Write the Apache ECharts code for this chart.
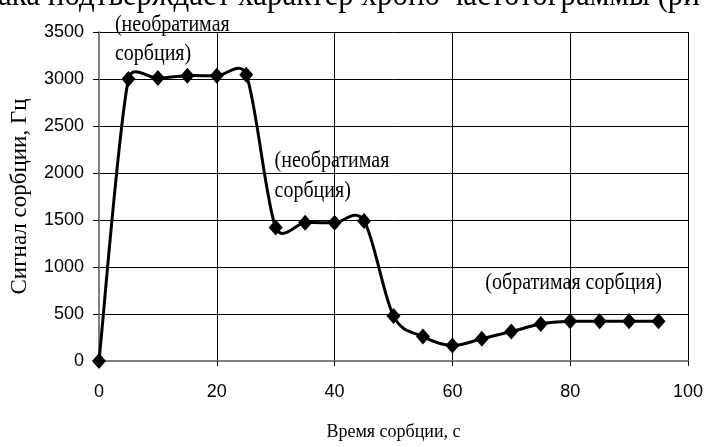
<!DOCTYPE html>
<html>
<head>
<meta charset="utf-8">
<script src="https://cdn.jsdelivr.net/npm/echarts@6/dist/echarts.min.js"></script>
<style>
html,body{margin:0;padding:0;background:#fff;}
#chart{width:706px;height:447px;}
</style>
</head>
<body>
<div id="chart"></div>
<script>
// Data
var times = [0, 5, 10, 15, 20, 25, 30, 35, 40, 45, 50, 55, 60, 65, 70, 75, 80, 85, 90, 95];
var signal = [0, 3000, 3010, 3035, 3035, 3045, 1420, 1470, 1470, 1490, 480, 260, 165, 236, 313, 394, 422, 422, 422, 422];
var xTicks = [0, 20, 40, 60, 80, 100];
var yTicks = [0, 500, 1000, 1500, 2000, 2500, 3000, 3500];
var annotationTexts = ['(необратимая', 'сорбция)', '(необратимая', 'сорбция)', '(обратимая сорбция)'];
var annotationX = [2.7, 2.7, 29.8, 29.8, 65.6];
var annotationY = [3580, 3270, 2130, 1810, 835];
var topText = 'ака подтверждает характер хроно частотограммы (ри';
var xName = 'Время сорбции, с';
var yName = 'Сигнал сорбции, Гц';

var chart = echarts.init(document.getElementById('chart'), null, {renderer: 'canvas'});
var serif = '"Liberation Serif", "DejaVu Serif", serif';
var sans = '"Liberation Sans", Arial, sans-serif';

var pairs = times.map(function (t, i) { return [t, signal[i]]; });

// Smoothed segment between point i and i+1 (tangent limited by neighbouring segment length),
// built from the axis coordinates of the data points
function renderSegment(params, api) {
  var i = params.dataIndex;
  var n = times.length;
  if (i >= n - 1) return null;
  function c(k) {
    k = Math.max(0, Math.min(n - 1, k));
    return api.coord([times[k], signal[k]]);
  }
  function len(a, b) { return Math.sqrt((a[0] - b[0]) * (a[0] - b[0]) + (a[1] - b[1]) * (a[1] - b[1])); }
  function tangent(prev, cur, next, segLen) {
    var vx = (next[0] - prev[0]) / 6, vy = (next[1] - prev[1]) / 6;
    var m = Math.sqrt(vx * vx + vy * vy);
    var lim = 0.55 * segLen;
    if (m > lim && m > 0) { vx *= lim / m; vy *= lim / m; }
    return [vx, vy];
  }
  var p0 = c(i - 1), p1 = c(i), p2 = c(i + 1), p3 = c(i + 2);
  var seg = len(p1, p2);
  var t1 = tangent(p0, p1, p2, seg);
  var t2 = tangent(p1, p2, p3, seg);
  return {
    type: 'bezierCurve',
    shape: {
      x1: p1[0], y1: p1[1], x2: p2[0], y2: p2[1],
      cpx1: p1[0] + t1[0], cpy1: p1[1] + t1[1],
      cpx2: p2[0] - t2[0], cpy2: p2[1] - t2[1]
    },
    style: {fill: null, stroke: '#000', lineWidth: 3, lineCap: 'round'}
  };
}

chart.setOption({
  animation: false,
  backgroundColor: '#fff',
  grid: {left: 97, right: 17, top: 32, bottom: 86},
  xAxis: {
    type: 'value', min: xTicks[0], max: xTicks[xTicks.length - 1], interval: xTicks[1] - xTicks[0],
    name: xName, nameLocation: 'middle', nameGap: 62,
    nameTextStyle: {fontFamily: serif, fontSize: 18, color: '#000'},
    axisLine: {show: true, lineStyle: {color: '#808080', width: 2}},
    axisTick: {show: true, inside: false, length: 5, lineStyle: {color: '#000', width: 1}},
    axisLabel: {margin: 22, fontFamily: sans, fontSize: 18, color: '#000',
      formatter: function (v) { return String(v); }},
    splitLine: {show: true, lineStyle: {color: '#000', width: 1}}
  },
  yAxis: {
    type: 'value', min: yTicks[0], max: yTicks[yTicks.length - 1], interval: yTicks[1] - yTicks[0],
    name: yName, nameLocation: 'middle', nameRotate: 90, nameGap: 68,
    nameTextStyle: {fontFamily: serif, fontSize: 23, color: '#000'},
    axisLine: {show: true, lineStyle: {color: '#808080', width: 2}},
    axisTick: {show: true, inside: false, length: 6, lineStyle: {color: '#000', width: 1}},
    axisLabel: {margin: 15, fontFamily: sans, fontSize: 18, color: '#000',
      formatter: function (v) { return String(v); }},
    splitLine: {show: true, lineStyle: {color: '#000', width: 1}}
  },
  series: [{
    type: 'custom',
    name: 'Сигнал',
    data: pairs,
    renderItem: renderSegment,
    clip: false,
    silent: true,
    z: 5
  }, {
    type: 'scatter',
    name: 'Сигнал',
    data: pairs,
    symbol: 'diamond',
    symbolSize: [14, 16],
    itemStyle: {color: '#000', opacity: 1},
    clip: false,
    z: 6
  }]
});

var graphics = [{
  type: 'text', x: -2, y: -4, scaleY: 1.15, z: 10,
  style: {text: topText, font: '31px "Liberation Serif", serif', fill: '#000',
    align: 'left', verticalAlign: 'middle'}
}];
annotationTexts.forEach(function (t, i) {
  var p = chart.convertToPixel({gridIndex: 0}, [annotationX[i], annotationY[i]]);
  graphics.push({
    type: 'text', x: p[0], y: p[1], scaleY: 1.2, z: 10,
    style: {text: t, font: '20px "Liberation Serif", serif', fill: '#000',
      align: 'left', verticalAlign: 'middle'}
  });
});
chart.setOption({graphic: graphics});
</script>
</body>
</html>
